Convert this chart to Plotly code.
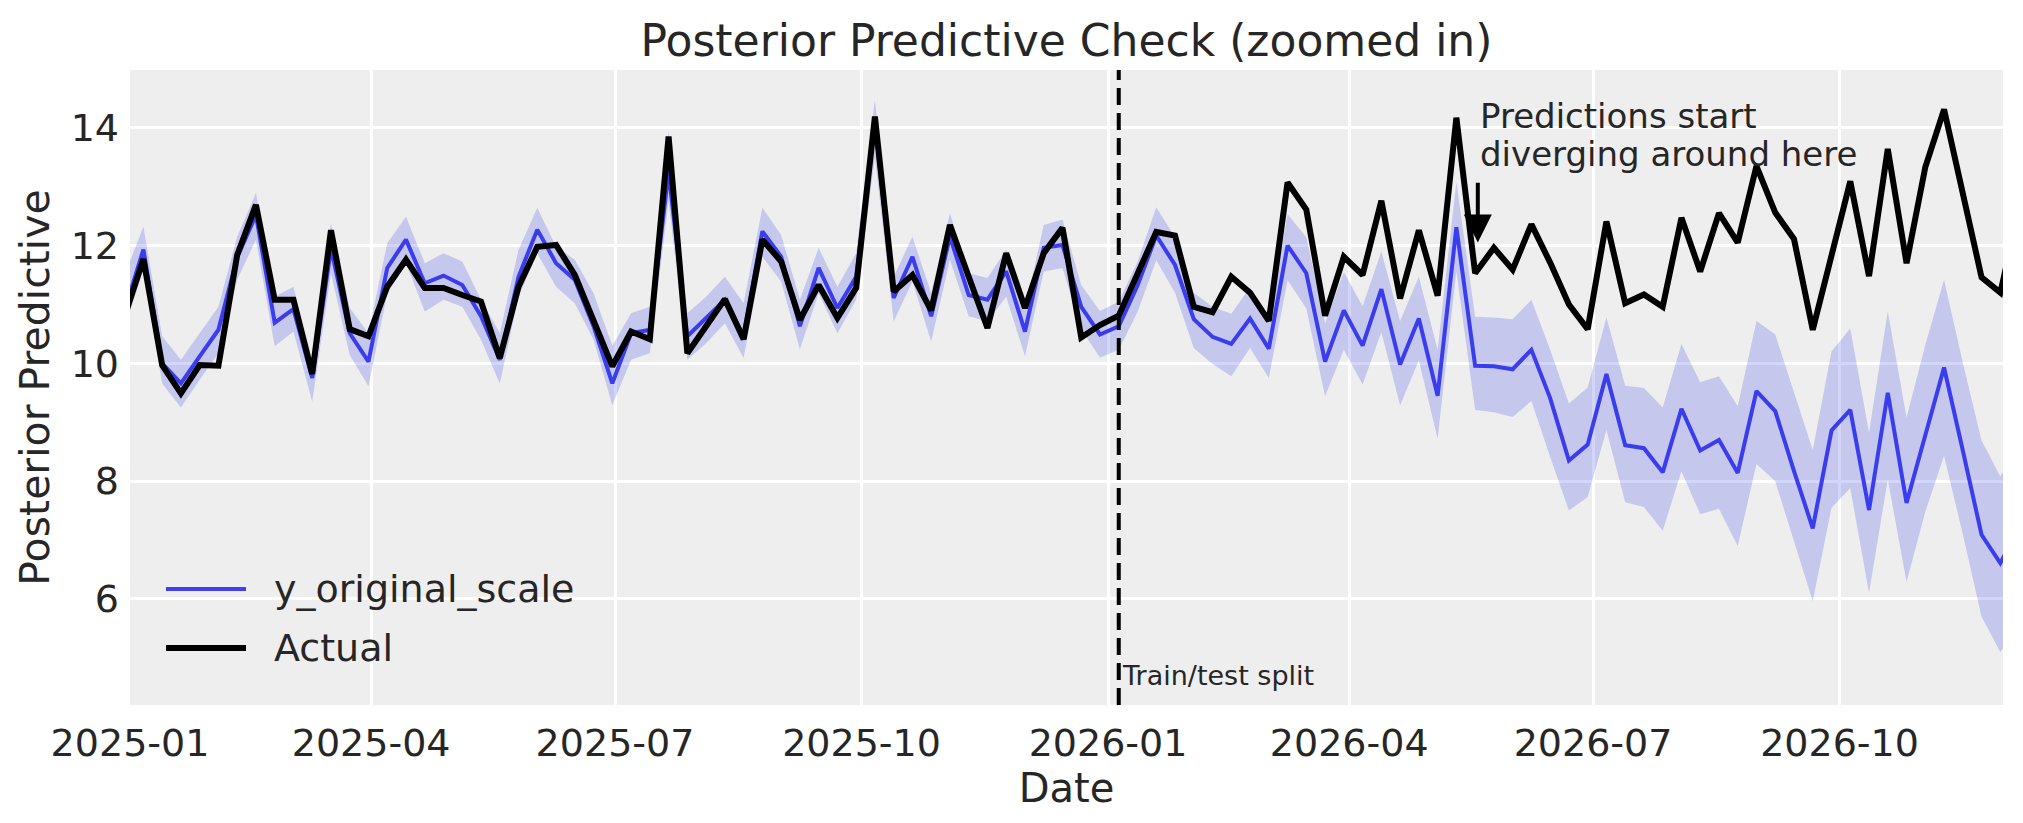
import pandas as pd
import plotly.graph_objects as go

# weekly dates (Mondays)
dates = pd.date_range("2024-12-30", periods=102, freq="7D")

actual = [
    10.80, 11.77, 9.97, 9.49, 9.97, 9.96, 11.84, 12.69, 11.08, 11.08,
    9.82, 12.26, 10.58, 10.46, 11.30, 11.76, 11.28, 11.28, 11.16, 11.05,
    10.09, 11.30, 11.98, 12.01, 11.50, 10.74, 9.95, 10.54, 10.41, 13.85,
    10.17, 10.63, 11.09, 10.41, 12.10, 11.73, 10.74, 11.33, 10.77, 11.28,
    14.19, 11.22, 11.50, 10.90, 12.35, 11.47, 10.60, 11.87, 10.94, 11.87,
    12.30, 10.44, 10.65, 10.81, 11.52, 12.23, 12.17, 10.96, 10.87, 11.47,
    11.20, 10.72, 13.07, 12.61, 10.81, 11.81, 11.50, 12.76, 11.10, 12.26,
    11.15, 14.17, 11.53, 11.96, 11.59, 12.36, 11.71, 11.00, 10.58, 12.41,
    11.02, 11.17, 10.96, 12.47, 11.56, 12.55, 12.05, 13.35, 12.56, 12.11,
    10.57, 11.88, 13.09, 11.48, 13.64, 11.70, 13.33, 14.31, 12.88, 11.46,
    11.20, 12.60,
]

pred_mean = [
    10.90, 11.93, 10.00, 9.66, 10.12, 10.57, 11.80, 12.52, 10.69, 10.92,
    9.75, 11.95, 10.51, 10.03, 11.62, 12.10, 11.36, 11.49, 11.33, 10.80,
    10.06, 11.47, 12.27, 11.70, 11.42, 10.63, 9.66, 10.51, 10.57, 13.25,
    10.46, 10.77, 11.08, 10.46, 12.24, 11.81, 10.63, 11.62, 10.94, 11.47,
    14.10, 11.11, 11.81, 10.80, 12.15, 11.16, 11.08, 11.56, 10.54, 11.96,
    12.01, 10.96, 10.49, 10.63, 11.32, 12.17, 11.67, 10.75, 10.45, 10.33,
    10.76, 10.25, 12.00, 11.53, 10.03, 10.90, 10.30, 11.26, 9.98, 10.76,
    9.45, 12.31, 9.96, 9.95, 9.90, 10.23, 9.41, 8.35, 8.62, 9.82,
    8.61, 8.56, 8.15, 9.23, 8.52, 8.70, 8.14, 9.53, 9.19, 8.17,
    7.20, 8.86, 9.21, 7.51, 9.50, 7.63, 8.81, 9.93, 8.52, 7.09,
    6.61, 7.20,
]

pred_upper = [
    11.50, 12.32, 10.46, 10.06, 10.51, 10.96, 12.15, 12.89, 11.13, 11.30,
    10.06, 12.38, 10.94, 10.51, 12.04, 12.49, 11.70, 11.87, 11.73, 11.08,
    10.51, 11.93, 12.64, 11.98, 11.76, 11.19, 10.30, 10.85, 10.96, 13.95,
    10.85, 11.13, 11.47, 11.02, 12.64, 12.18, 11.08, 11.96, 11.30, 11.87,
    14.48, 11.47, 12.15, 11.19, 12.55, 11.53, 11.45, 11.93, 10.91, 12.35,
    12.44, 11.33, 10.89, 11.05, 11.72, 12.65, 12.14, 11.20, 10.96, 10.84,
    11.29, 10.72, 12.53, 12.14, 10.68, 11.55, 10.97, 11.90, 10.72, 11.47,
    10.23, 13.08, 10.79, 10.78, 10.75, 11.08, 10.23, 9.32, 9.59, 10.78,
    9.62, 9.58, 9.25, 10.33, 9.68, 9.78, 9.27, 10.72, 10.49, 9.50,
    8.53, 10.20, 10.59, 8.82, 10.88, 9.08, 10.31, 11.42, 10.01, 8.69,
    8.08, 8.60,
]

pred_lower = [
    10.60, 11.59, 9.66, 9.25, 9.72, 10.17, 11.42, 12.10, 10.29, 10.54,
    9.35, 11.53, 10.14, 9.61, 11.19, 11.70, 10.88, 11.08, 10.96, 10.40,
    9.66, 11.13, 11.87, 11.30, 11.02, 10.40, 9.29, 10.06, 10.17, 12.75,
    10.06, 10.34, 10.68, 10.09, 11.81, 11.39, 10.24, 11.19, 10.51, 11.08,
    13.50, 10.71, 11.39, 10.37, 11.76, 10.80, 10.71, 11.13, 10.12, 11.56,
    11.62, 10.57, 10.10, 10.23, 10.87, 11.75, 11.20, 10.26, 9.99, 9.78,
    10.26, 9.75, 11.41, 10.93, 9.44, 10.23, 9.64, 10.53, 9.29, 10.05,
    8.72, 11.56, 9.21, 9.17, 9.09, 9.36, 8.41, 7.50, 7.73, 8.87,
    7.64, 7.56, 7.16, 8.17, 7.44, 7.53, 6.90, 8.29, 8.00, 6.96,
    5.96, 7.55, 7.88, 6.10, 8.03, 6.29, 7.48, 8.43, 7.10, 5.70,
    5.10, 5.50,
]

split_date = "2026-01-05"
arrow_date = "2026-05-19"

BLUE_LINE = "rgba(42,46,236,0.9)"
BAND = "rgba(42,46,236,0.2)"
TEXT = "#262626"
FONT = "DejaVu Sans"

# the page body has an 8px margin, so the figure is drawn a bit smaller
OFF = 8
W, H = 2023 - OFF, 823 - OFF
L, R, T, B = 130 - OFF, 20, 70 - OFF, 118


def px_x(page_px):
    return (page_px - OFF - L) / (W - L - R)


def px_y(page_py):
    return (H - B - (page_py - OFF)) / (H - T - B)


fig = go.Figure()

fig.add_trace(go.Scatter(x=dates, y=pred_lower, mode="lines",
                         line=dict(width=0), showlegend=False, hoverinfo="skip"))
fig.add_trace(go.Scatter(x=dates, y=pred_upper, mode="lines",
                         line=dict(width=0), fill="tonexty", fillcolor=BAND,
                         showlegend=False, hoverinfo="skip"))
fig.add_trace(go.Scatter(x=dates, y=pred_mean, mode="lines",
                         line=dict(color=BLUE_LINE, width=4),
                         name="y_original_scale", showlegend=False))
fig.add_trace(go.Scatter(x=dates, y=actual, mode="lines",
                         line=dict(color="black", width=6),
                         name="Actual", showlegend=False))

fig.add_vline(x=split_date, line=dict(color="black", width=4, dash="17px,8px"))

# legend drawn by hand, bottom left inside the axes
legend_rows = [("y_original_scale", BLUE_LINE, 4, 589),
               ("Actual", "black", 6, 648)]
for label, col, lw, py in legend_rows:
    fig.add_shape(type="line", xref="paper", yref="paper",
                  x0=px_x(166), x1=px_x(246), y0=px_y(py), y1=px_y(py),
                  line=dict(color=col, width=lw))
    fig.add_annotation(xref="paper", yref="paper", x=px_x(272), y=px_y(py),
                       text=label, showarrow=False, xanchor="left",
                       yanchor="middle", font=dict(size=38, color=TEXT))

fig.add_annotation(x=split_date, xref="x", yref="paper", y=px_y(675),
                   text="Train/test split", showarrow=False, xanchor="left",
                   yanchor="middle", xshift=1, font=dict(size=27, color=TEXT))

fig.add_annotation(x=arrow_date, y=12.05, ax=arrow_date, ay=13.09,
                   xref="x", yref="y", axref="x", ayref="y", text="",
                   showarrow=True, arrowhead=2, arrowsize=1.4, arrowwidth=4,
                   arrowcolor="black")
fig.add_annotation(x=arrow_date, y=14.2, xref="x", yref="y",
                   text="Predictions start", showarrow=False, xanchor="left",
                   yanchor="middle", font=dict(size=34, color=TEXT))
fig.add_annotation(x=arrow_date, y=13.56, xref="x", yref="y",
                   text="diverging around here", showarrow=False,
                   xanchor="left", yanchor="middle",
                   font=dict(size=34, color=TEXT))

fig.update_layout(
    width=W, height=H,
    margin=dict(l=L, r=R, t=T, b=B, autoexpand=False),
    paper_bgcolor="white",
    plot_bgcolor="#eeeeee",
    font=dict(family=FONT, color=TEXT),
    title=dict(text="Posterior Predictive Check (zoomed in)",
               font=dict(size=44, color=TEXT),
               xref="paper", x=0.5, xanchor="center",
               y=1 - (41 - OFF) / H, yanchor="middle", yref="container"),
    showlegend=False,
)

fig.update_xaxes(
    range=["2025-01-01", "2026-12-01"],
    tickformat="%Y-%m", dtick="M3", tick0="2025-01-01",
    showgrid=True, gridcolor="white", gridwidth=2.5,
    zeroline=False, showline=False, ticks="", automargin=False,
    tickfont=dict(size=38, color=TEXT), ticklabelstandoff=12,
    title=dict(text="Date", font=dict(size=40, color=TEXT), standoff=0),
)
fig.update_yaxes(
    range=[4.2, 14.98],
    tickvals=[6, 8, 10, 12, 14],
    showgrid=True, gridcolor="white", gridwidth=2.5,
    zeroline=False, showline=False, ticks="", automargin=False,
    tickfont=dict(size=38, color=TEXT), ticklabelstandoff=10,
    title=dict(text="Posterior Predictive", font=dict(size=41, color=TEXT),
               standoff=8),
)

fig.write_html("out.html")
